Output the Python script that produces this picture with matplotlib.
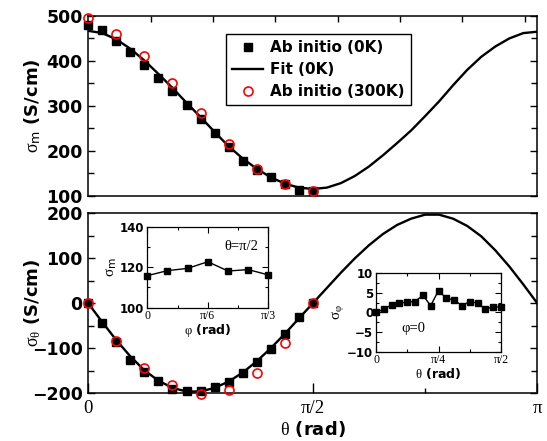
import numpy as np
import matplotlib
matplotlib.use("Agg")
import matplotlib.pyplot as plt
from matplotlib.ticker import MultipleLocator, FixedLocator

plt.rcParams["font.family"] = "DejaVu Sans"
plt.rcParams["font.weight"] = "bold"
plt.rcParams["axes.labelweight"] = "bold"
plt.rcParams["mathtext.fontset"] = "custom"
plt.rcParams["mathtext.rm"] = "Liberation Serif:weight=normal"
plt.rcParams["mathtext.it"] = "Liberation Serif:weight=normal"
plt.rcParams["mathtext.sf"] = "DejaVu Sans:weight=normal"
plt.rcParams["axes.linewidth"] = 1.1
plt.rcParams["xtick.direction"] = "in"
plt.rcParams["ytick.direction"] = "in"

# theta grids (rad)
theta_0K = np.linspace(0, np.pi / 2, 17)
theta_300K = np.linspace(0, np.pi / 2, 9)
theta_fit = np.linspace(0, np.pi, 33)

# sigma_m (S/cm)
sigma_m_0K = [480, 469, 444, 419, 392, 363, 333, 303, 270, 240, 208, 177, 158, 141, 126, 112, 111]
sigma_m_300K = [495, 461, 411, 350, 283, 216, 159, 125, 111]
sigma_m_fit = [467, 462, 448, 427, 401, 371, 340, 307, 275, 242, 210, 183, 160, 141, 127, 118, 115,
               118, 128, 144, 165, 190, 217, 245, 277, 310, 346, 380, 409, 432, 450, 462, 465]

# sigma_theta (S/cm)
sigma_t_0K = [0, -44, -85, -125, -152, -172, -190, -195, -196, -187, -175, -156, -131, -102, -69, -31, 0]
sigma_t_300K = [0, -84, -143, -182, -201, -193, -156, -88, 0]
sigma_t_fit = [0, -42, -82, -118, -149, -172, -188, -196, -196, -188, -174, -154, -129, -100, -68, -34, 0,
               34, 68, 100, 129, 154, 174, 188, 197, 197, 188, 172, 149, 118, 82, 42, 0]

# inset 1: sigma_m vs phi at theta = pi/2
phi_in = np.linspace(0, np.pi / 3, 7)
sigma_m_phi = [115.8, 118.3, 119.4, 122.7, 118.1, 118.8, 116.2]

# inset 2: sigma_phi vs theta at phi = 0
theta_in = np.linspace(0, np.pi / 2, 17)
sigma_phi = [0, 0.85, 1.96, 2.4, 2.64, 2.8, 4.4, 1.74, 5.6, 3.6, 3.2, 1.74, 2.8, 2.4, 0.9, 1.4, 1.4]

fig = plt.figure(figsize=(5.47, 4.41), dpi=100)
ax1 = fig.add_axes([0.1614, 0.5562, 0.8209, 0.4075])
ax2 = fig.add_axes([0.1614, 0.1082, 0.8209, 0.4081])

# top panel
fit_line, = ax1.plot(theta_fit, sigma_m_fit, color="black", lw=1.7, zorder=2)
sq, = ax1.plot(theta_0K, sigma_m_0K, ls="none", marker="s", ms=5.2, color="black",
               clip_on=False, zorder=3)
ci, = ax1.plot(theta_300K, sigma_m_300K, ls="none", marker="o", ms=6.5, mfc="none",
               mec="red", mew=1.2, clip_on=False, zorder=4)
ax1.set_xlim(0, np.pi)
ax1.set_ylim(100, 500)
ax1.yaxis.set_major_locator(MultipleLocator(100))
ax1.yaxis.set_minor_locator(MultipleLocator(50))
ax1.set_xticks(np.deg2rad(np.arange(25, 180, 25)))
ax1.tick_params(axis="x", which="both", bottom=False, top=True, labelbottom=False, length=4, width=1)
ax1.tick_params(axis="y", which="both", left=True, right=True, labelsize=12.5, width=1, pad=4)
ax1.tick_params(axis="y", which="major", length=5)
ax1.tick_params(axis="y", which="minor", length=4)
ax1.set_ylabel(r"$\sigma_\mathsf{m}$ (S/cm)", fontsize=13, fontweight="bold")
ax1.yaxis.set_label_coords(-0.10, 0.5)

leg = ax1.legend([sq, fit_line, ci], ["Ab initio (0K)", "Fit (0K)", "Ab initio (300K)"],
                 loc="upper left", bbox_to_anchor=(0.307, 0.898), fancybox=False,
                 edgecolor="black", framealpha=1, borderpad=0.4, handlelength=2.0,
                 handletextpad=0.5, labelspacing=0.45, borderaxespad=0,
                 prop={"weight": "bold", "size": 11})
leg.get_frame().set_linewidth(1.0)

# bottom panel
ax2.plot(theta_fit, sigma_t_fit, color="black", lw=1.7, zorder=2)
ax2.plot(theta_0K, sigma_t_0K, ls="none", marker="s", ms=5.2, color="black", clip_on=False, zorder=3)
ax2.plot(theta_300K, sigma_t_300K, ls="none", marker="o", ms=6.5, mfc="none",
         mec="red", mew=1.2, clip_on=False, zorder=4)
ax2.set_xlim(0, np.pi)
ax2.set_ylim(-200, 200)
ax2.yaxis.set_major_locator(MultipleLocator(100))
ax2.yaxis.set_minor_locator(MultipleLocator(50))
ax2.set_xticks([0, np.pi / 2, np.pi])
ax2.set_xticklabels(["0", "\u03c0/2", "\u03c0"], fontfamily="Liberation Serif",
                    fontweight="normal", fontsize=13.5)
ax2.xaxis.set_minor_locator(FixedLocator([np.pi / 4, 3 * np.pi / 4]))
ax2.tick_params(axis="x", which="both", bottom=True, top=False, width=1, pad=5)
ax2.tick_params(axis="x", which="major", length=7)
ax2.tick_params(axis="x", which="minor", length=3.5)
ax2.tick_params(axis="y", which="both", left=True, right=True, labelsize=12.5, width=1, pad=4)
ax2.tick_params(axis="y", which="major", length=5)
ax2.tick_params(axis="y", which="minor", length=4)
ax2.set_ylabel(r"$\sigma_\theta$ (S/cm)", fontsize=13, fontweight="bold")
ax2.yaxis.set_label_coords(-0.10, 0.5)
ax2.set_xlabel(r"$\theta$ (rad)", fontsize=13, fontweight="bold", labelpad=1)

# inset 1
ax3 = fig.add_axes([0.2693, 0.3023, 0.2212, 0.1837])
ax3.plot(phi_in, sigma_m_phi, color="black", lw=1.0, marker="s", ms=4, clip_on=False)
ax3.set_xlim(0, np.pi / 3)
ax3.set_ylim(100, 140)
ax3.set_xticks([0, np.pi / 6, np.pi / 3])
ax3.set_xticklabels(["0", "\u03c0/6", "\u03c0/3"], fontfamily="Liberation Serif",
                    fontweight="normal", fontsize=10)
ax3.xaxis.set_minor_locator(MultipleLocator(np.pi / 12))
ax3.yaxis.set_major_locator(MultipleLocator(20))
ax3.yaxis.set_minor_locator(MultipleLocator(10))
ax3.tick_params(which="both", top=True, right=True, width=0.8, labelsize=8.5, pad=2)
ax3.tick_params(which="major", length=4)
ax3.tick_params(which="minor", length=2.5)
ax3.set_xlabel(r"$\varphi$ (rad)", fontsize=9, fontweight="bold", labelpad=0)
ax3.set_ylabel(r"$\sigma_\mathsf{m}$", fontsize=11, labelpad=1)
ax3.text(0.775, 0.75, "\u03b8=\u03c0/2", transform=ax3.transAxes, ha="center", va="center",
         fontsize=10.5, fontweight="normal", fontfamily="Liberation Serif")
for s in ax3.spines.values():
    s.set_linewidth(0.9)

# inset 2
ax4 = fig.add_axes([0.6874, 0.2025, 0.2285, 0.1778])
ax4.plot(theta_in, sigma_phi, color="black", lw=1.0, marker="s", ms=4, clip_on=False)
ax4.set_xlim(0, np.pi / 2)
ax4.set_ylim(-10, 10)
ax4.set_xticks([0, np.pi / 4, np.pi / 2])
ax4.set_xticklabels(["0", "\u03c0/4", "\u03c0/2"], fontfamily="Liberation Serif",
                    fontweight="normal", fontsize=10)
ax4.xaxis.set_minor_locator(MultipleLocator(np.pi / 8))
ax4.yaxis.set_major_locator(MultipleLocator(5))
ax4.yaxis.set_minor_locator(MultipleLocator(2.5))
ax4.tick_params(which="both", top=True, right=True, width=0.8, labelsize=8.5, pad=2)
ax4.tick_params(which="major", length=4)
ax4.tick_params(which="minor", length=2.5)
ax4.set_xlabel(r"$\theta$ (rad)", fontsize=9, fontweight="bold", labelpad=0)
ax4.set_ylabel(r"$\sigma_\varphi$", fontsize=11, labelpad=1)
ax4.text(0.3, 0.29, "\u03c6=0", transform=ax4.transAxes, ha="center", va="center",
         fontsize=10.5, fontweight="normal", fontfamily="Liberation Serif")
for s in ax4.spines.values():
    s.set_linewidth(0.9)

plt.savefig("out.png", dpi=100)
